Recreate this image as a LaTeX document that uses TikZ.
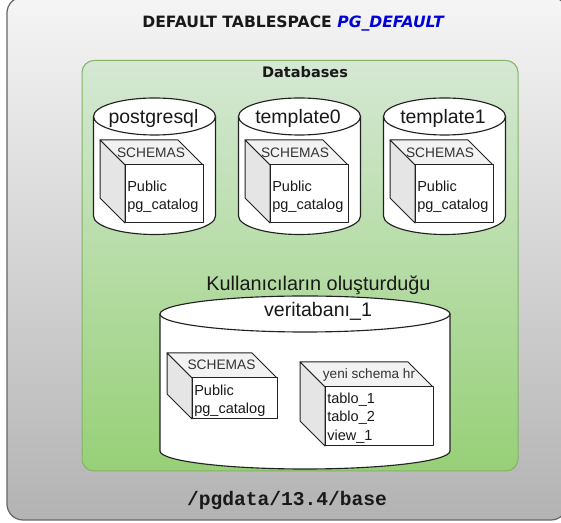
\documentclass[tikz,border=0pt]{standalone}
\usepackage{fontspec}
\setmainfont{Liberation Sans}
\newfontfamily\titlefont{DejaVu Sans}
\newfontfamily\pathfont{Liberation Mono}
\definecolor{greytop}{HTML}{F5F5F5}
\definecolor{greybot}{HTML}{B3B3B3}
\definecolor{greyline}{HTML}{666666}
\definecolor{greentop}{HTML}{D5E8D4}
\definecolor{greenbot}{HTML}{97D077}
\definecolor{greenline}{HTML}{82B366}
\definecolor{inkline}{HTML}{222222}
\tikzset{
  outerbox/.style={draw=greyline,line width=0.9pt,rounded corners=12pt,top color=greytop,bottom color=greybot},
  greenbox/.style={draw=greenline,line width=0.75pt,rounded corners=9pt,top color=greentop,bottom color=greenbot},
  cylbody/.style={draw=inkline,fill=white,line width=0.85pt},
  cubeface/.style={draw=inkline,line width=0.75pt,line join=round},
  cubetop/.style={cubeface,fill=black!5},
  cubeside/.style={cubeface,fill=black!10},
  cubefront/.style={cubeface,fill=white},
  big/.style={inner sep=0pt,font=\fontsize{14.6pt}{16pt}\selectfont,text=black!90},
  mid/.style={inner sep=0pt,font=\fontsize{10.3pt}{12pt}\selectfont,text=black!80},
  lst/.style={inner sep=0pt,anchor=west,font=\fontsize{10.9pt}{12pt}\selectfont,text=black!90},
}
% #1 centre x, #2 half width, #3 top ellipse y, #4 ry, #5 bottom ellipse y
\newcommand{\cylshape}[5]{%
  \draw[cylbody] (#1-#2,#3) -- (#1-#2,#5) arc[start angle=180,end angle=360,x radius=#2,y radius=#4*-1] -- (#1+#2,#3);
  \draw[cylbody] (#1,#3) ellipse[x radius=#2,y radius=#4];
}
% #1 x back-left, #2 y back, #3 depth, #4 front width, #5 front height
\newcommand{\cubeshape}[5]{%
  \draw[cubetop] (#1,#2) -- (#1+#4,#2) -- (#1+#3+#4,#2+#3) -- (#1+#3,#2+#3) -- cycle;
  \draw[cubeside] (#1,#2) -- (#1+#3,#2+#3) -- (#1+#3,#2+#3+#5) -- (#1,#2+#5) -- cycle;
  \draw[cubefront] (#1+#3,#2+#3) rectangle (#1+#3+#4,#2+#3+#5);
}
\begin{document}
\begin{tikzpicture}[x=0.75pt,y=-0.75pt]
\useasboundingbox (0,0) rectangle (561,523);
\begin{scope}
\clip (0,0) rectangle (561,523);
\draw[outerbox] (7,-3) rectangle (567,520);
\end{scope}
\draw[greenbox] (82,60.5) rectangle (518,471);
\node[inner sep=0pt,font=\titlefont\bfseries\fontsize{11.7pt}{13pt}\selectfont,text=black!90] (title) at (293,23.5) {DEFAULT TABLESPACE {\color{blue!85!black}\itshape PG\_DEFAULT}};
\node[inner sep=0pt,font=\titlefont\bfseries\fontsize{10.9pt}{13pt}\selectfont,text=black!90] (dbs) at (305,72.5) {Databases};
\cylshape{154.5}{61}{116.5}{18.5}{216}
\cubeshape{100}{140}{25}{78}{58}
\node[big] (pg) at (153.5,118) {postgresql};
\node[mid] (s1) at (151,152.5) {SCHEMAS};
\node[lst] (p1) at (127,186) {Public};
\node[lst] (c1) at (127,206) {pg\_catalog};
\cylshape{299.5}{61}{116.5}{18.5}{216}
\cubeshape{245}{140}{25}{78}{58}
\node[big] (t0) at (298,118) {template0};
\node[mid] (s2) at (295,152.5) {SCHEMAS};
\node[lst] (p2) at (272,186) {Public};
\node[lst] (c2) at (272,206) {pg\_catalog};
\cylshape{444.5}{61}{116.5}{18.5}{216}
\cubeshape{390}{140}{25}{78}{58}
\node[big] (t1) at (443,118) {template1};
\node[mid] (s3) at (440,152.5) {SCHEMAS};
\node[lst] (p3) at (417,186) {Public};
\node[lst] (c3) at (417,206) {pg\_catalog};
\node[big,font=\fontsize{14.9pt}{16pt}\selectfont] (user) at (318.5,285.5) {Kullanıcıların oluşturduğu};
\cylshape{305}{145}{314}{18}{451}
\node[big,font=\fontsize{14.7pt}{16pt}\selectfont] (v1) at (318,311.5) {veritabanı\_1};
\cubeshape{167}{353}{25}{85}{41}
\node[mid] (s4) at (221.5,365) {SCHEMAS};
\node[lst] (p4) at (194,390) {Public};
\node[lst] (c4) at (194,410) {pg\_catalog};
\cubeshape{300}{362}{25}{108}{59}
\node[mid,font=\fontsize{10.2pt}{11pt}\selectfont] (s5) at (369,375) {yeni schema hr};
\node[lst] (a5) at (327,400) {tablo\_1};
\node[lst] (b5) at (327,418) {tablo\_2};
\node[lst] (d5) at (327,436.5) {view\_1};
\node[inner sep=0pt,font=\pathfont\bfseries\fontsize{14.7pt}{16pt}\selectfont,text=black!90] (path) at (287,500) {/pgdata/13.4/base};
\end{tikzpicture}
\end{document}
